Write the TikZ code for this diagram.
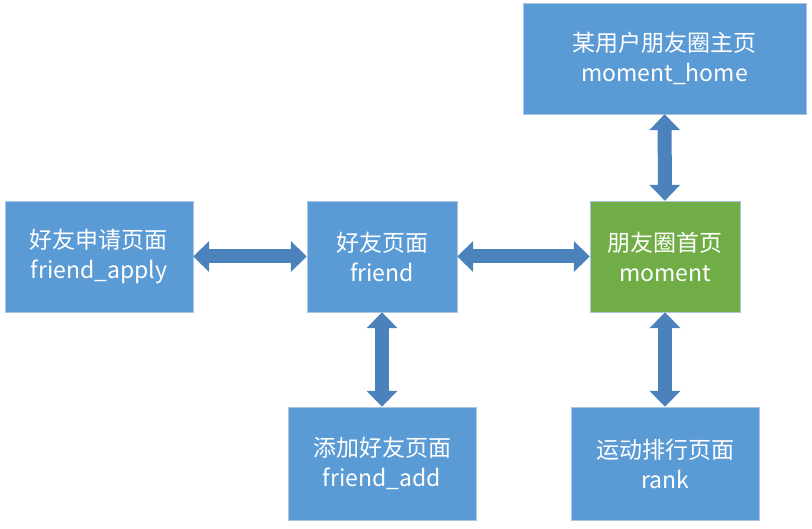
\documentclass[tikz,border=0pt]{standalone}
\usepackage{fontspec}
\setmainfont{Noto Sans CJK SC}
\usetikzlibrary{arrows.meta}

\definecolor{boxblue}{RGB}{91,155,213}
\definecolor{boxgreen}{RGB}{112,173,71}
\definecolor{boxline}{RGB}{170,196,226}
\definecolor{arrowblue}{RGB}{75,130,187}

\tikzset{
  page/.style={draw=boxline, fill=boxblue, text=white, align=center,
    font=\fontsize{23pt}{30pt}\selectfont, inner sep=0pt},
  homepage/.style={page, fill=boxgreen},
  link/.style={draw=arrowblue, line width=14pt,
    {Triangle[width=30pt,length=16pt]}-{Triangle[width=30pt,length=16pt]}}
}

\begin{document}
\begin{tikzpicture}[x=1pt,y=1pt]
\useasboundingbox (0,0) rectangle (812,-529);

%页面
    \node[page, minimum width=283pt, minimum height=111pt] (home) at (664.5,-58.5)
        {某用户朋友圈主页\\moment\_home};
    \node[page, minimum width=188pt, minimum height=111pt] (apply) at (99,-256.5)
        {好友申请页面\\friend\_apply};
    \node[page, minimum width=150pt, minimum height=111pt] (friend) at (382,-256.5)
        {好友页面\\friend};
    \node[homepage, minimum width=150pt, minimum height=111pt] (moment) at (665,-256.5)
        {朋友圈首页\\moment};
    \node[page, minimum width=188pt, minimum height=113pt] (add) at (382,-463.5)
        {添加好友页面\\friend\_add};
    \node[page, minimum width=188pt, minimum height=113pt] (rank) at (665,-463.5)
        {运动排行页面\\rank};

%箭头
    \draw[link] (apply) -- (friend);
    \draw[link] (friend) -- (moment);
    \draw[link] (moment) -- (home);
    \draw[link] (friend) -- (add);
    \draw[link] (moment) -- (rank);

\end{tikzpicture}
\end{document}
